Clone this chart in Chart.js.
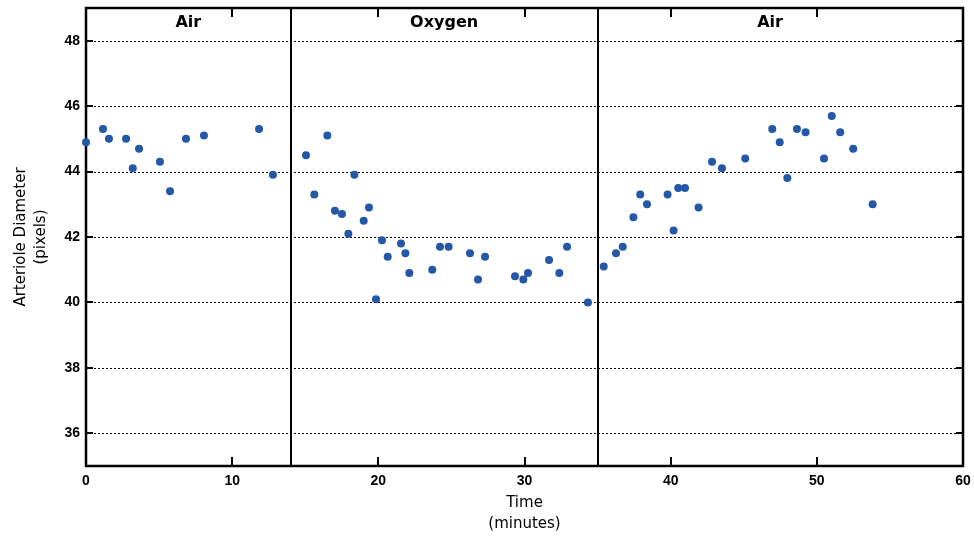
<!DOCTYPE html>
<html>
<head>
<meta charset="utf-8">
<script src="https://cdn.jsdelivr.net/npm/chart.js@4.4.1/dist/chart.umd.min.js"></script>
<style>
  html, body { margin: 0; padding: 0; background: #fff; }
  #wrap { width: 974px; height: 536px; position: relative; }
</style>
</head>
<body>
<div id="wrap"><canvas id="chart"></canvas></div>
<script>
"use strict";

// time (minutes) and arteriole diameter (pixels)
var timeMin = [
  0, 1.16, 1.57, 2.74, 3.2, 3.63, 5.06, 5.75, 6.84, 8.07, 11.84, 12.79,
  15.05, 15.62, 16.51, 17.03, 17.51, 17.95, 18.36, 19.0, 19.36, 19.84,
  20.25, 20.64, 21.55, 21.85, 22.12, 23.69, 24.22, 24.81, 26.27, 26.82,
  27.3, 29.35, 29.92, 30.24, 31.68, 32.38, 32.91, 34.34,
  35.42, 36.26, 36.72, 37.45, 37.92, 38.38, 39.79, 40.2, 40.52, 40.98,
  41.91, 42.83, 43.51, 45.1, 46.95, 47.46, 47.98, 48.64, 49.23, 50.49,
  51.02, 51.6, 52.49, 53.82
];
var diameter = [
  44.9, 45.3, 45.0, 45.0, 44.1, 44.7, 44.3, 43.4, 45.0, 45.1, 45.3, 43.9,
  44.5, 43.3, 45.1, 42.8, 42.7, 42.1, 43.9, 42.5, 42.9, 40.1,
  41.9, 41.4, 41.8, 41.5, 40.9, 41.0, 41.7, 41.7, 41.5, 40.7,
  41.4, 40.8, 40.7, 40.9, 41.3, 40.9, 41.7, 40.0,
  41.1, 41.5, 41.7, 42.6, 43.3, 43.0, 43.3, 42.2, 43.5, 43.5,
  42.9, 44.3, 44.1, 44.4, 45.3, 44.9, 43.8, 45.3, 45.2, 44.4,
  45.7, 45.2, 44.7, 43.0
];

// phase boundaries and labels
var phaseBounds = [14, 35];
var phaseNames = ["Air", "Oxygen", "Air"];
var phaseLabelAt = [7, 24.5, 46.8];

var xTickValues = [0, 10, 20, 30, 40, 50, 60];
var yTickValues = [36, 38, 40, 42, 44, 46, 48];

var points = timeMin.map(function (t, i) { return { x: t, y: diameter[i] }; });

var framePlugin = {
  id: "frame",
  beforeDatasetsDraw: function (chart) {
    var ctx = chart.ctx;
    var area = chart.chartArea;
    var xs = chart.scales.x;
    var ys = chart.scales.y;

    ctx.save();
    // dotted horizontal grid
    ctx.strokeStyle = "#000";
    ctx.lineWidth = 1;
    ctx.setLineDash([2, 2]);
    yTickValues.forEach(function (v) {
      var py = Math.round(ys.getPixelForValue(v)) + 0.5;
      ctx.beginPath();
      ctx.moveTo(area.left, py);
      ctx.lineTo(area.right, py);
      ctx.stroke();
    });
    ctx.setLineDash([]);

    // phase separators
    ctx.lineWidth = 2;
    phaseBounds.forEach(function (b) {
      var px = Math.round(xs.getPixelForValue(b));
      ctx.beginPath();
      ctx.moveTo(px, area.top);
      ctx.lineTo(px, area.bottom);
      ctx.stroke();
    });

    // inward tick marks
    xTickValues.slice(1, -1).forEach(function (v) {
      var px = Math.round(xs.getPixelForValue(v));
      ctx.beginPath();
      ctx.moveTo(px, area.bottom);
      ctx.lineTo(px, area.bottom - 9);
      ctx.moveTo(px, area.top);
      ctx.lineTo(px, area.top + 9);
      ctx.stroke();
    });
    yTickValues.forEach(function (v) {
      var py = Math.round(ys.getPixelForValue(v));
      ctx.beginPath();
      ctx.moveTo(area.left, py);
      ctx.lineTo(area.left + 7, py);
      ctx.moveTo(area.right, py);
      ctx.lineTo(area.right - 7, py);
      ctx.stroke();
    });

    // frame
    ctx.lineWidth = 2.5;
    ctx.strokeRect(area.left, area.top, area.right - area.left, area.bottom - area.top);

    // phase labels
    ctx.fillStyle = "#000";
    ctx.font = "bold 16px 'DejaVu Sans'";
    ctx.textAlign = "center";
    ctx.textBaseline = "middle";
    phaseNames.forEach(function (name, i) {
      ctx.fillText(name, xs.getPixelForValue(phaseLabelAt[i]), area.top + 15);
    });
    ctx.restore();
  }
};

new Chart(document.getElementById("chart"), {
  type: "scatter",
  data: {
    datasets: [{
      label: "Arteriole diameter",
      data: points,
      backgroundColor: "#2457a8",
      borderColor: "#2457a8",
      borderWidth: 0,
      pointRadius: 4,
      clip: false
    }]
  },
  options: {
    responsive: true,
    maintainAspectRatio: false,
    animation: false,
    layout: { padding: { top: 8, right: 11, left: 0, bottom: 0 } },
    plugins: {
      legend: { display: false },
      tooltip: { enabled: false }
    },
    scales: {
      x: {
        type: "linear",
        min: 0,
        max: 60,
        afterBuildTicks: function (axis) {
          axis.ticks = xTickValues.map(function (v) { return { value: v }; });
        },
        afterFit: function (axis) {
          axis.height = 70;
          axis.paddingLeft = 0;
          axis.paddingRight = 0;
        },
        grid: { display: false, drawTicks: false },
        border: { display: false },
        ticks: {
          padding: 7,
          color: "#000",
          font: { family: "'Liberation Sans', Arial", size: 14, weight: "bold" }
        },
        title: {
          display: true,
          text: ["Time", "(minutes)"],
          color: "#000",
          padding: { top: 2, bottom: 1 },
          font: { family: "'DejaVu Sans'", size: 15, lineHeight: 1.4 }
        }
      },
      y: {
        type: "linear",
        min: 35,
        max: 49,
        afterBuildTicks: function (axis) {
          axis.ticks = yTickValues.map(function (v) { return { value: v }; });
        },
        afterFit: function (axis) {
          axis.width = 86;
          axis.paddingTop = 0;
          axis.paddingBottom = 0;
        },
        grid: { display: false, drawTicks: false },
        border: { display: false },
        ticks: {
          padding: 6,
          color: "#000",
          font: { family: "'Liberation Sans', Arial", size: 14, weight: "bold" }
        },
        title: {
          display: true,
          text: ["Arteriole Diameter", "(pixels)"],
          color: "#000",
          padding: { top: 11, bottom: 4 },
          font: { family: "'DejaVu Sans'", size: 15, lineHeight: 1.35 }
        }
      }
    }
  },
  plugins: [framePlugin]
});
</script>
</body>
</html>
